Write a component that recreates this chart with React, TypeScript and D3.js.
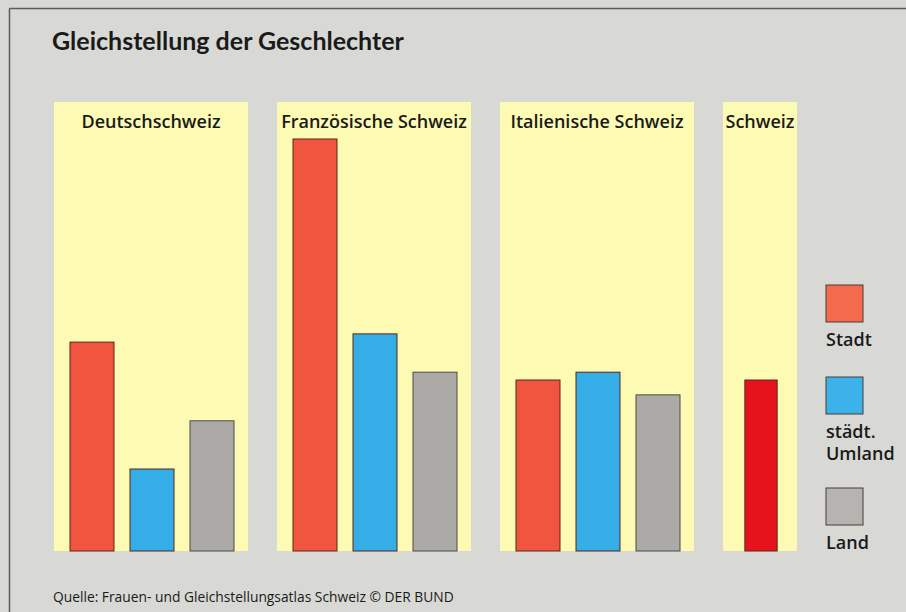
import React, { useEffect, useRef } from "react";
import * as d3 from "d3";

// regions (panels) and their bar values (index, Französische Schweiz Stadt = 100)
const regions = ["Deutschschweiz", "Französische Schweiz", "Italienische Schweiz", "Schweiz"];
const series = ["Stadt", "städt. Umland", "Land"];
const stadt = [50.7, 100, 41.5, 41.5];
const umland = [19.9, 52.7, 43.4, NaN];
const land = [31.6, 43.4, 37.9, NaN];

const legendLabels = [["Stadt"], ["städt.", "Umland"], ["Land"]];
const title = "Gleichstellung der Geschlechter";
const source = "Quelle: Frauen- und Gleichstellungsatlas Schweiz © DER BUND";

const colors = ["#f2553f", "#35aee8", "#abaaa6"];
const legendColors = ["#f36a4c", "#3db2ea", "#b5b4b0"];

export default function App() {
  const ref = useRef<SVGSVGElement>(null);

  useEffect(() => {
    const width = 906;
    const height = 612;
    const svg = d3.select(ref.current);
    svg.selectAll("*").remove();
    svg.attr("width", width).attr("height", height);

    const font = "'Open Sans', 'Noto Sans', sans-serif";

    // background
    svg.append("rect").attr("width", width).attr("height", height).attr("fill", "#d8d9d5");
    svg.append("line")
      .attr("x1", 9.5).attr("x2", width).attr("y1", 8.5).attr("y2", 8.5)
      .attr("stroke", "#5a5a5a").attr("stroke-width", 1.5);
    svg.append("line")
      .attr("x1", 9.5).attr("x2", 9.5).attr("y1", 8.5).attr("y2", height)
      .attr("stroke", "#5a5a5a").attr("stroke-width", 1.5);

    svg.append("text")
      .attr("x", 52).attr("y", 50)
      .attr("font-family", "Lato, 'Open Sans', sans-serif").attr("font-weight", 700).attr("font-size", 25)
      .attr("fill", "#1a1a1a")
      .text(title);

    const y = d3.scaleLinear().domain([0, 100]).range([551, 139]);
    const panelTop = 102;
    const padL = 16, padR = 14, gap = 29, step = 60, barW = 44;

    const data = regions.map((r, i) => ({
      region: r,
      values: [stadt[i], umland[i], land[i]]
        .map((v, j) => ({ key: series[j], value: v, j }))
        .filter(d => !isNaN(d.value)),
    }));

    let px = 54;
    data.forEach((d) => {
      const n = d.values.length;
      const innerW = n * step - (step - barW);
      const panelW = padL + innerW + padR;
      const x = d3.scaleBand<string>()
        .domain(d.values.map(v => v.key))
        .range([px + padL, px + padL + innerW])
        .paddingInner((step - barW) / step)
        .paddingOuter(0);

      const g = svg.append("g");
      g.append("rect")
        .attr("x", px).attr("y", panelTop)
        .attr("width", panelW).attr("height", y(0) - panelTop)
        .attr("fill", "#fdfbb3");

      g.append("text")
        .attr("x", px + panelW / 2).attr("y", 128)
        .attr("text-anchor", "middle")
        .attr("font-family", font).attr("font-weight", 600).attr("font-size", 18)
        .attr("fill", "#1a1a1a")
        .text(d.region);

      g.selectAll("rect.bar")
        .data(d.values)
        .join("rect")
        .attr("class", "bar")
        .attr("x", v => x(v.key)!)
        .attr("width", x.bandwidth())
        .attr("y", v => y(v.value))
        .attr("height", v => y(0) - y(v.value))
        .attr("fill", v => (d.region === "Schweiz" ? "#e6131d" : colors[v.j]))
        .attr("stroke", v => (v.j === 2 ? "#4a4a48" : "#5a2418"))
        .attr("stroke-width", 1);

      px += panelW + gap;
    });

    // legend
    const legY = [285, 377, 488];
    const lg = svg.append("g").attr("transform", "translate(826,0)");
    legendLabels.forEach((lines, i) => {
      lg.append("rect")
        .attr("x", 0).attr("y", legY[i])
        .attr("width", 37).attr("height", 37)
        .attr("fill", legendColors[i])
        .attr("stroke", "#4a3a36").attr("stroke-width", 1);
      lines.forEach((t, k) => {
        lg.append("text")
          .attr("x", 0).attr("y", legY[i] + 61 + k * 22)
          .attr("font-family", font).attr("font-weight", 600).attr("font-size", 18)
          .attr("fill", "#1a1a1a")
          .text(t);
      });
    });

    svg.append("text")
      .attr("x", 53).attr("y", 602)
      .attr("font-family", font).attr("font-size", 13.8)
      .attr("fill", "#1a1a1a")
      .text(source);
  }, []);

  return (
    <svg ref={ref} style={{ position: "absolute", left: 0, top: 0, display: "block" }} />
  );
}
